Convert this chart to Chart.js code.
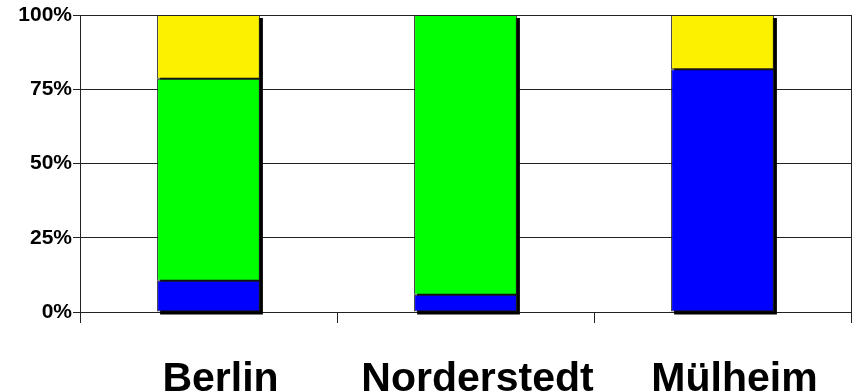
<!DOCTYPE html>
<html>
<head>
<meta charset="utf-8">
<script src="https://cdn.jsdelivr.net/npm/chart.js@4/dist/chart.umd.min.js"></script>
<style>
  html, body { margin: 0; padding: 0; background: #fff; }
  #wrap { width: 855px; height: 392px; }
</style>
</head>
<body>
<div id="wrap"><canvas id="chart"></canvas></div>
<script>
// Chart data (percent of each city)
const cities = ['Berlin', 'Norderstedt', 'Mülheim'];
const blueShare = [10.5, 5.8, 81.7];
const greenShare = [68, 94.2, 0];
const yellowShare = [21.5, 0, 18.3];
const yTicks = [0, 25, 50, 75, 100];

// Drop shadow behind each stacked column
const columnShadow = {
    id: 'columnShadow',
    beforeDatasetsDraw(chart) {
        const ctx = chart.ctx;
        const metas = chart.getSortedVisibleDatasetMetas();
        cities.forEach((_, i) => {
            const bars = metas.map(m => m.data[i]);
            const first = bars[0];
            const top = Math.min(...bars.map(b => Math.min(b.y, b.base)));
            const half = first.width / 2;
            ctx.save();
            ctx.fillStyle = '#000';
            ctx.fillRect(first.x - half + 3, top + 3, first.width, first.base - top);
            ctx.restore();
        });
    }
};

const font = "Arial, 'Liberation Sans', sans-serif";

new Chart(document.getElementById('chart'), {
    type: 'bar',
    data: {
        labels: cities,
        datasets: [
            { data: blueShare, backgroundColor: '#0000ff' },
            { data: greenShare, backgroundColor: '#00ff00' },
            { data: yellowShare, backgroundColor: '#fcf200' }
        ].map(ds => Object.assign(ds, {
            borderColor: '#222',
            borderWidth: 1,
            borderSkipped: false,
            categoryPercentage: 1,
            barPercentage: 0.4
        }))
    },
    options: {
        responsive: true,
        maintainAspectRatio: false,
        animation: false,
        layout: { padding: { top: 15, right: 4, left: 0, bottom: 0 } },
        plugins: {
            legend: { display: false },
            tooltip: { enabled: false }
        },
        scales: {
            x: {
                stacked: true,
                grid: {
                    offset: true,
                    drawOnChartArea: true,
                    color: c => (c.tick ? 'transparent' : '#222'),
                    tickColor: '#222',
                    tickLength: 11,
                    lineWidth: 1
                },
                border: { color: '#222', width: 1 },
                ticks: {
                    color: '#000',
                    font: { family: font, size: 41, weight: 'bold' },
                    padding: 32,
                    labelOffset: 12,
                    maxRotation: 0,
                    autoSkip: false
                },
                afterFit: s => { s.height = 80; }
            },
            y: {
                stacked: true,
                min: 0,
                max: 100,
                afterBuildTicks: s => { s.ticks = yTicks.map(v => ({ value: v })); },
                grid: {
                    color: '#222',
                    tickColor: '#222',
                    tickLength: 7,
                    lineWidth: 1
                },
                border: { color: '#222', width: 1 },
                ticks: {
                    color: '#000',
                    font: { family: font, size: 21, weight: 'bold' },
                    padding: 1,
                    callback: v => v + '%'
                },
                afterFit: s => { s.width = 80; }
            }
        }
    },
    plugins: [columnShadow]
});
</script>
</body>
</html>
